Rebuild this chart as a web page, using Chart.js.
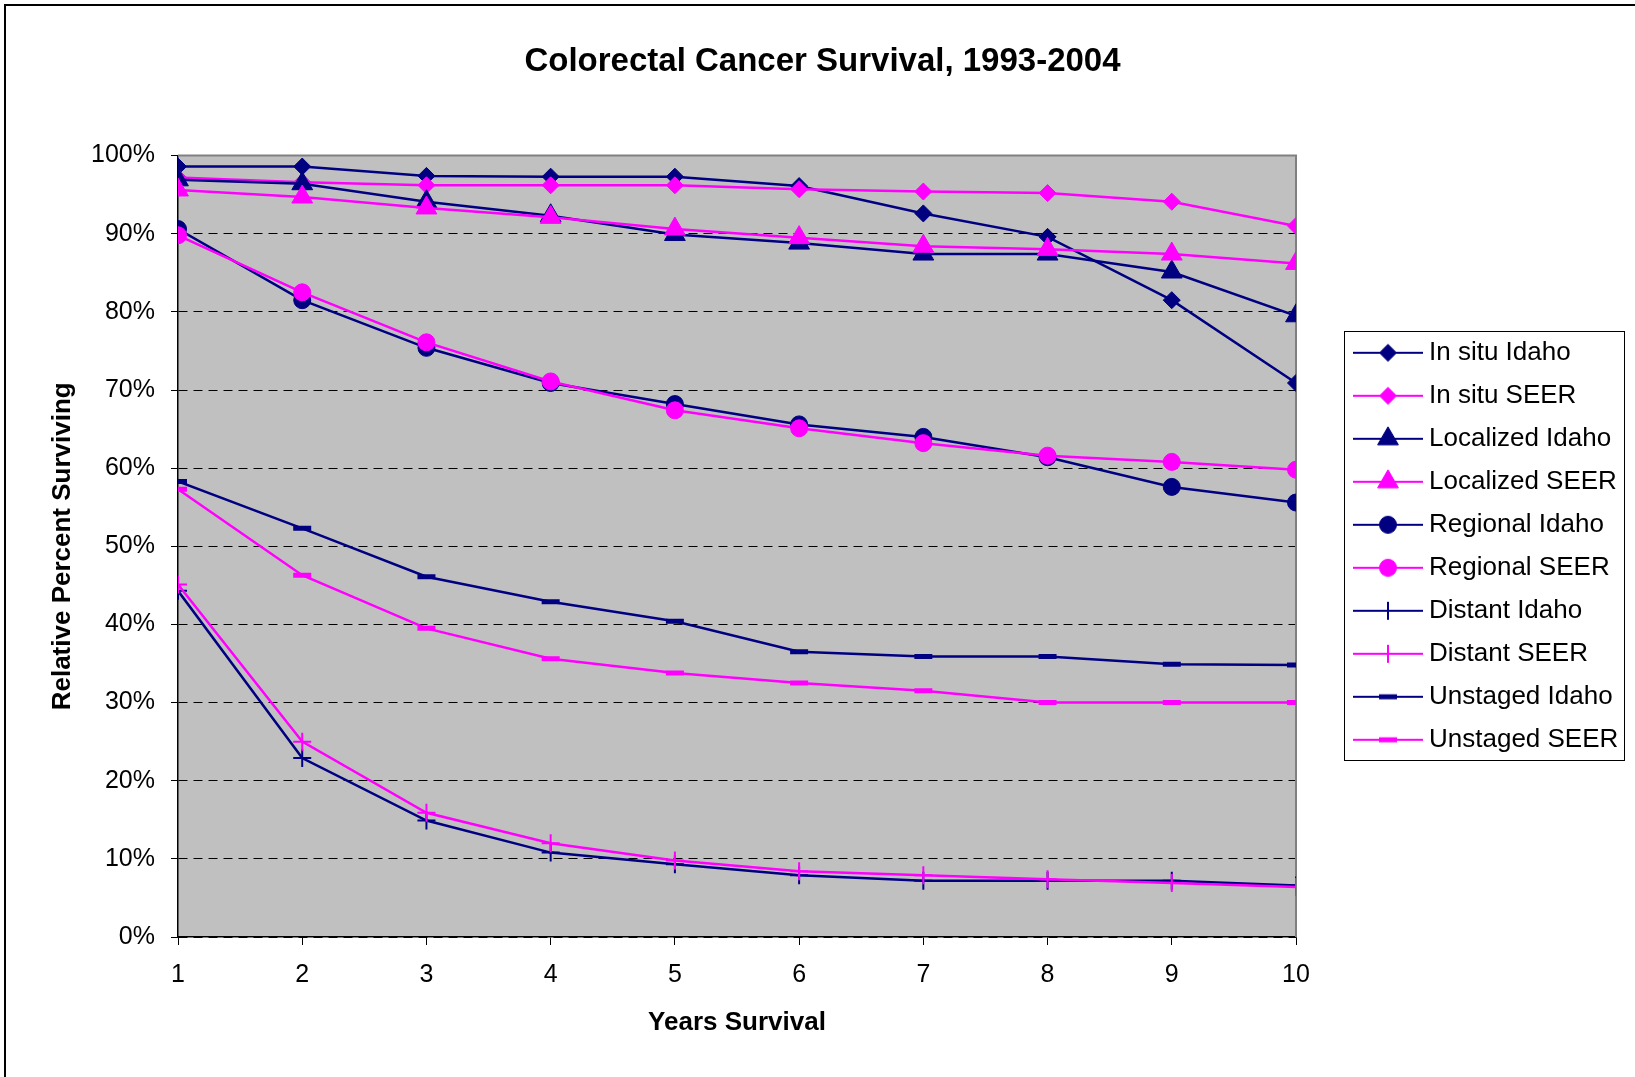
<!DOCTYPE html>
<html>
<head>
<meta charset="utf-8">
<script src="https://cdn.jsdelivr.net/npm/chart.js@4/dist/chart.umd.min.js"></script>
<style>
  body { margin: 0; background: #fff; }
  #wrap { width: 1635px; height: 1077px; position: relative; }
</style>
</head>
<body>
<div id="wrap"><canvas id="grafico"></canvas></div>
<script>
  // años de sobrevida (eje x)
  let anios = [1, 2, 3, 4, 5, 6, 7, 8, 9, 10]
  let marcasY = [0, 10, 20, 30, 40, 50, 60, 70, 80, 90, 100]

  // porcentaje relativo de sobrevivientes
  let inSituIdaho      = [98.6, 98.6, 97.4, 97.3, 97.3, 96.1, 92.6, 89.6, 81.5, 70.9]
  let inSituSeer       = [97.2, 96.6, 96.2, 96.2, 96.2, 95.7, 95.4, 95.2, 94.1, 91.0]
  let localizedIdaho   = [96.9, 96.4, 94.1, 92.3, 89.9, 88.8, 87.4, 87.4, 85.1, 79.5]
  let localizedSeer    = [95.6, 94.7, 93.3, 92.1, 90.6, 89.5, 88.4, 88.0, 87.4, 86.2]
  let regionalIdaho    = [90.6, 81.5, 75.4, 70.9, 68.2, 65.6, 64.0, 61.4, 57.6, 55.6]
  let regionalSeer     = [89.8, 82.5, 76.1, 71.1, 67.4, 65.1, 63.2, 61.6, 60.8, 59.8]
  let distantIdaho     = [44.3, 22.9, 14.9, 10.8, 9.3, 7.9, 7.2, 7.2, 7.2, 6.6]
  let distantSeer      = [45.1, 25.0, 15.9, 12.0, 9.8, 8.4, 7.9, 7.4, 6.9, 6.4]
  let unstagedIdaho    = [58.3, 52.3, 46.1, 42.9, 40.4, 36.5, 35.9, 35.9, 34.9, 34.8]
  let unstagedSeer     = [57.3, 46.3, 39.5, 35.6, 33.8, 32.5, 31.5, 30.0, 30.0, 30.0]

  const AZUL = "#000080"
  const MAGENTA = "#FF00FF"
  const FUENTE = "Arial, 'Liberation Sans', sans-serif"

  // nombre, datos, color, marcador, radio, grosor del borde del marcador
  let series = [
    ["In situ Idaho", inSituIdaho, AZUL, "rectRot", 8.5, 1],
    ["In situ SEER", inSituSeer, MAGENTA, "rectRot", 8.5, 1],
    ["Localized Idaho", localizedIdaho, AZUL, "triangle", 12, 1],
    ["Localized SEER", localizedSeer, MAGENTA, "triangle", 12, 1],
    ["Regional Idaho", regionalIdaho, AZUL, "circle", 8.5, 1],
    ["Regional SEER", regionalSeer, MAGENTA, "circle", 8.5, 1],
    ["Distant Idaho", distantIdaho, AZUL, "cross", 9, 2],
    ["Distant SEER", distantSeer, MAGENTA, "cross", 9, 2],
    ["Unstaged Idaho", unstagedIdaho, AZUL, "line", 9, 5],
    ["Unstaged SEER", unstagedSeer, MAGENTA, "line", 9, 5]
  ]

  // muestra de la leyenda: linea con el marcador al medio
  function muestraLeyenda(color, estilo, radio, grosor) {
    const c = document.createElement("canvas")
    c.width = 70
    c.height = 28
    const g = c.getContext("2d")
    g.strokeStyle = color
    g.fillStyle = color
    g.lineWidth = 2
    g.beginPath()
    g.moveTo(0, 14)
    g.lineTo(70, 14)
    g.stroke()
    g.lineWidth = grosor
    Chart.helpers.drawPoint(g, { pointStyle: estilo, radius: radio, borderWidth: grosor, rotation: 0 }, 35, 14)
    return c
  }
  let muestras = series.map(s => muestraLeyenda(s[2], s[3], s[4], s[5]))

  let datasets = series.map((s, i) => ({
    label: s[0],
    data: s[1],
    borderColor: s[2],
    backgroundColor: s[2],
    borderWidth: 2.5,
    pointStyle: s[3],
    pointRadius: s[4],
    pointHoverRadius: s[4],
    pointBorderWidth: s[5],
    pointBackgroundColor: s[2],
    pointBorderColor: s[2],
    tension: 0,
    order: series.length - 1 - i // las ultimas series quedan arriba
  }))

  const ESPACIO_LEYENDA = 339

  const fondo = {
    id: "fondo",
    beforeLayout(chart) {
      const lg = chart.legend
      if (lg && !lg._parchado) {
        const fitOriginal = lg.fit.bind(lg)
        lg.fit = function () { fitOriginal(); this.width = ESPACIO_LEYENDA }
        lg._parchado = true
      }
    },
    afterLayout(chart) {
      const lg = chart.legend
      const a = chart.chartArea
      lg.left = a.right + 47
      lg.right = lg.left + 292
      lg.top = a.top
      lg.bottom = a.bottom
    },
    beforeDraw(chart) {
      const { ctx, chartArea: a } = chart
      ctx.save()
      ctx.fillStyle = "#000"
      ctx.fillRect(4, 4, chart.width, 2)
      ctx.fillRect(4, 4, 2, chart.height)
      ctx.fillStyle = "#C0C0C0"
      ctx.fillRect(a.left, a.top, a.right - a.left, a.bottom - a.top)
      ctx.restore()
    },
    beforeDatasetsDraw(chart) {
      const { ctx, chartArea: a } = chart
      ctx.save()
      ctx.strokeStyle = "#808080"
      ctx.lineWidth = 2
      ctx.beginPath()
      ctx.moveTo(a.left, a.top)
      ctx.lineTo(a.right, a.top)
      ctx.lineTo(a.right, a.bottom)
      ctx.stroke()
      ctx.restore()
    },
    afterDraw(chart) {
      const cajas = chart.legend.legendHitBoxes
      if (!cajas || !cajas.length) return
      let izq = Math.min(...cajas.map(b => b.left)) - 16
      let arr = Math.min(...cajas.map(b => b.top)) - 8.5
      let der = Math.max(...cajas.map(b => b.left + b.width)) + 6
      let aba = Math.max(...cajas.map(b => b.top + b.height)) + 8
      const ctx = chart.ctx
      ctx.save()
      ctx.strokeStyle = "#000"
      ctx.lineWidth = 1
      ctx.strokeRect(Math.round(izq) + 0.5, Math.round(arr) + 0.5, Math.round(der - izq), Math.round(aba - arr))
      ctx.restore()
    }
  }

  var ctx = document.getElementById("grafico").getContext("2d")
  var grafico = new Chart(ctx, {
    type: "line",
    data: { labels: anios, datasets: datasets },
    plugins: [fondo],
    options: {
      responsive: true,
      maintainAspectRatio: false,
      animation: false,
      layout: { padding: { left: 10, right: 0, top: 0, bottom: 30 } },
      plugins: {
        tooltip: { enabled: false },
        title: {
          display: true,
          text: "Colorectal Cancer Survival, 1993-2004",
          color: "#000",
          font: { family: FUENTE, size: 33, weight: "bold" },
          padding: { top: 42, bottom: 74 }
        },
        legend: {
          position: "right",
          labels: {
            usePointStyle: true,
            pointStyleWidth: 56,
            boxHeight: 26,
            padding: 17,
            color: "#000",
            font: { family: FUENTE, size: 26 },
            sort: (a, b) => a.datasetIndex - b.datasetIndex,
            generateLabels: function (chart) {
              let items = Chart.defaults.plugins.legend.labels.generateLabels(chart)
              items.forEach(it => { it.pointStyle = muestras[it.datasetIndex] })
              return items
            }
          }
        }
      },
      scales: {
        x: {
          type: "linear",
          min: 1,
          max: 10,
          afterFit: s => { s.height = 110 },
          ticks: {
            stepSize: 1,
            color: "#000",
            padding: 15,
            font: { family: FUENTE, size: 25 }
          },
          grid: { drawOnChartArea: false, drawTicks: true, tickLength: 8, tickColor: "#000" },
          border: { color: "#000", width: 1.5 },
          title: {
            display: true,
            text: "Years Survival",
            color: "#000",
            font: { family: FUENTE, size: 26, weight: "bold" },
            padding: { top: 0, bottom: 9 }
          }
        },
        y: {
          min: 0,
          max: 100,
          afterFit: s => { s.width = 168 },
          afterBuildTicks: s => { s.ticks = marcasY.map(v => ({ value: v })) },
          ticks: {
            color: "#000",
            padding: 16,
            font: { family: FUENTE, size: 25 },
            callback: v => v + "%"
          },
          grid: { color: "#000", lineWidth: 1, tickLength: 7, tickColor: "#000", tickBorderDash: [] },
          border: { color: "#000", width: 1.5, dash: [9, 6] },
          title: {
            display: true,
            text: "Relative Percent Surviving",
            color: "#000",
            font: { family: FUENTE, size: 26, weight: "bold" },
            padding: { top: 37, bottom: 0 }
          }
        }
      }
    }
  })
</script>
</body>
</html>
